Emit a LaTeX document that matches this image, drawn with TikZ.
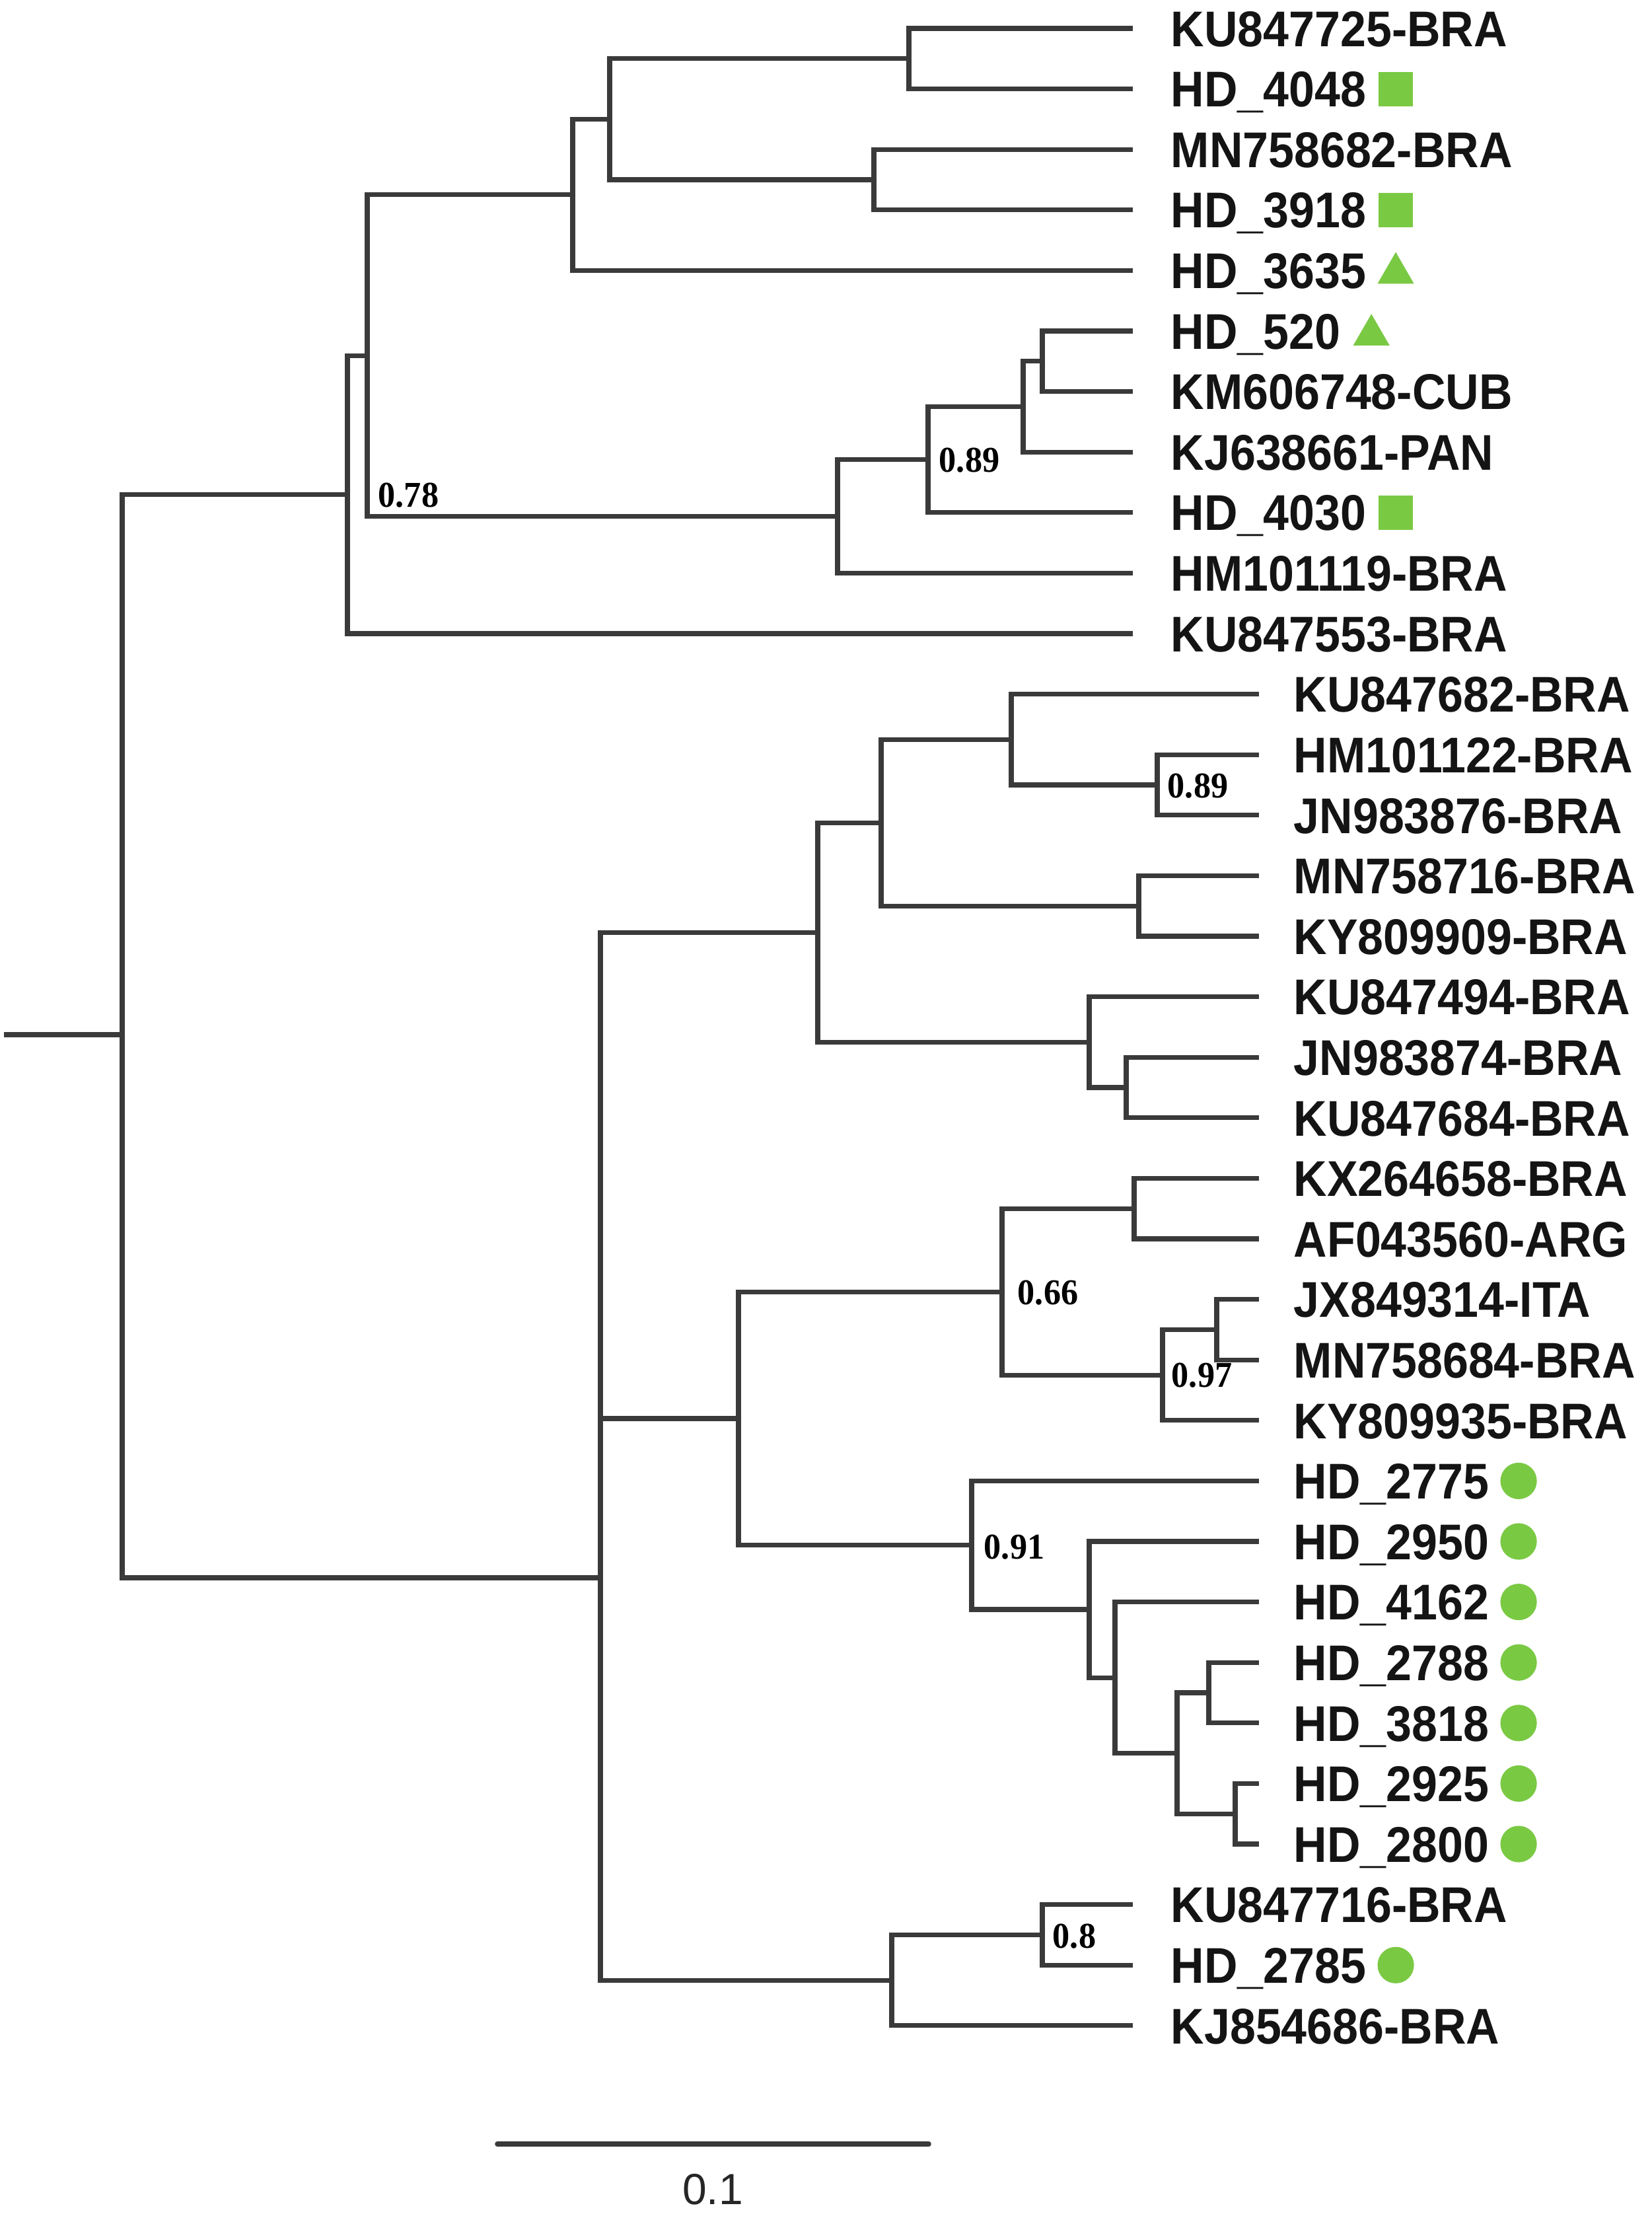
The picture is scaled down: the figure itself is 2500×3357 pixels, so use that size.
\documentclass[tikz,border=0pt]{standalone}
\usepackage{fontspec}
\usetikzlibrary{calc,shapes.geometric}
\newfontfamily\labfont[FakeStretch=0.92]{Liberation Sans}
\newfontfamily\supfont[FakeStretch=0.95]{Liberation Serif}
\newfontfamily\barfont{Liberation Sans}
\definecolor{branchcol}{RGB}{58,58,58}
\definecolor{mkgreen}{RGB}{122,201,67}
\begin{document}
\begin{tikzpicture}[x=0.25pt,y=-0.25pt,
  branch/.style={draw=branchcol,line width=1.8pt,line cap=rect},
  leaflab/.style={anchor=west,inner sep=0pt,text height=13.6pt,text depth=0pt,text=black!92,
    font=\labfont\bfseries\fontsize{19}{22}\selectfont},
  suplab/.style={anchor=west,inner sep=0pt,text height=9.3pt,text depth=0pt,text=black,
    font=\supfont\bfseries\fontsize{13.75}{16}\selectfont},
  sqmark/.style={rectangle,fill=mkgreen,draw=none,minimum size=13pt,inner sep=0pt},
  trimark/.style={regular polygon,regular polygon sides=3,fill=mkgreen,draw=none,minimum size=15.9pt,inner sep=0pt},
  circmark/.style={circle,fill=mkgreen,draw=none,minimum size=13.8pt,inner sep=0pt}
]
\fill[white] (0,0) rectangle (2500,3357);
\useasboundingbox (0,0) rectangle (2500,3357);

% ---------- internal nodes ----------
\coordinate (stub) at (10,1566);
\coordinate (root) at (185,1566);
\coordinate (nA) at (526,748.6);
\coordinate (nB) at (556,538.2);
\coordinate (nG) at (867,294.9);
\coordinate (nH) at (923,180.4);
\coordinate (nI) at (1376,88.8);
\coordinate (nJ) at (1323,272);
\coordinate (nC) at (1268,781.5);
\coordinate (nD) at (1405,695.7);
\coordinate (nE) at (1549,615.5);
\coordinate (nF) at (1578,546.8);
\coordinate (nK) at (909,2388);
\coordinate (nL) at (1238,1411.3);
\coordinate (nO) at (1334,1245.3);
\coordinate (nP) at (1531,1119.3);
\coordinate (nQ) at (1752,1188);
\coordinate (nR) at (1724,1371.2);
\coordinate (nS) at (1649,1577.3);
\coordinate (nT) at (1705,1646);
\coordinate (nM) at (1118,2147);
\coordinate (nU) at (1517,1955.2);
\coordinate (nV) at (1717,1829.2);
\coordinate (nW) at (1760,2081.1);
\coordinate (nX) at (1842,2012.4);
\coordinate (nY) at (1471,2338.7);
\coordinate (nZ) at (1649,2436);
\coordinate (nAA) at (1688,2539.1);
\coordinate (nAB) at (1782,2653.6);
\coordinate (nAC) at (1830,2562);
\coordinate (nAD) at (1870,2745.2);
\coordinate (nN) at (1350,2997.1);
\coordinate (nAE) at (1578,2928.4);

% ---------- leaf tips ----------
\foreach \i in {1,...,11} {\coordinate (t\i) at (1711,{43+(\i-1)*91.6});}
\foreach \i in {12,...,31} {\coordinate (t\i) at (1902,{43+(\i-1)*91.6});}
\foreach \i in {32,33,34} {\coordinate (t\i) at (1711,{43+(\i-1)*91.6});}

% ---------- branches ----------
\draw[branch] (stub) -- (root);
\foreach \p/\c in {root/nA,root/nK,
  nA/nB,nA/t11,nB/nG,nB/nC,nG/nH,nG/t5,nH/nI,nH/nJ,nI/t1,nI/t2,nJ/t3,nJ/t4,
  nC/nD,nC/t10,nD/nE,nD/t9,nE/nF,nE/t8,nF/t6,nF/t7,
  nK/nL,nK/nM,nK/nN,nL/nO,nL/nS,nO/nP,nO/nR,nP/t12,nP/nQ,nQ/t13,nQ/t14,
  nR/t15,nR/t16,nS/t17,nS/nT,nT/t18,nT/t19,
  nM/nU,nM/nY,nU/nV,nU/nW,nV/t20,nV/t21,nW/nX,nW/t24,nX/t22,nX/t23,
  nY/t25,nY/nZ,nZ/t26,nZ/nAA,nAA/t27,nAA/nAB,nAB/nAC,nAB/nAD,
  nAC/t28,nAC/t29,nAD/t30,nAD/t31,
  nN/nAE,nN/t34,nAE/t32,nAE/t33}
  {\draw[branch] (\p) |- (\c);}

% ---------- leaf labels ----------
\node[leaflab] (l1) at (1772,43) {KU847725-BRA};
\node[leaflab] (l2) at (1772,134.6) {HD\_4048};
\node[leaflab] (l3) at (1772,226.2) {MN758682-BRA};
\node[leaflab] (l4) at (1772,317.8) {HD\_3918};
\node[leaflab] (l5) at (1772,409.4) {HD\_3635};
\node[leaflab] (l6) at (1772,501) {HD\_520};
\node[leaflab] (l7) at (1772,592.6) {KM606748-CUB};
\node[leaflab] (l8) at (1772,684.2) {KJ638661-PAN};
\node[leaflab] (l9) at (1772,775.8) {HD\_4030};
\node[leaflab] (l10) at (1772,867.4) {HM101119-BRA};
\node[leaflab] (l11) at (1772,959) {KU847553-BRA};
\node[leaflab] (l12) at (1958,1050.6) {KU847682-BRA};
\node[leaflab] (l13) at (1958,1142.2) {HM101122-BRA};
\node[leaflab] (l14) at (1958,1233.8) {JN983876-BRA};
\node[leaflab] (l15) at (1958,1325.4) {MN758716-BRA};
\node[leaflab] (l16) at (1958,1417) {KY809909-BRA};
\node[leaflab] (l17) at (1958,1508.6) {KU847494-BRA};
\node[leaflab] (l18) at (1958,1600.2) {JN983874-BRA};
\node[leaflab] (l19) at (1958,1691.8) {KU847684-BRA};
\node[leaflab] (l20) at (1958,1783.4) {KX264658-BRA};
\node[leaflab] (l21) at (1958,1875) {AF043560-ARG};
\node[leaflab] (l22) at (1958,1966.6) {JX849314-ITA};
\node[leaflab] (l23) at (1958,2058.2) {MN758684-BRA};
\node[leaflab] (l24) at (1958,2149.8) {KY809935-BRA};
\node[leaflab] (l25) at (1958,2241.4) {HD\_2775};
\node[leaflab] (l26) at (1958,2333) {HD\_2950};
\node[leaflab] (l27) at (1958,2424.6) {HD\_4162};
\node[leaflab] (l28) at (1958,2516.2) {HD\_2788};
\node[leaflab] (l29) at (1958,2607.8) {HD\_3818};
\node[leaflab] (l30) at (1958,2699.4) {HD\_2925};
\node[leaflab] (l31) at (1958,2791) {HD\_2800};
\node[leaflab] (l32) at (1772,2882.6) {KU847716-BRA};
\node[leaflab] (l33) at (1772,2974.2) {HD\_2785};
\node[leaflab] (l34) at (1772,3065.8) {KJ854686-BRA};

% ---------- markers ----------
\node[sqmark] (m2) at ($(l2.east)+(44,0)$) {};
\node[sqmark] (m4) at ($(l4.east)+(44,0)$) {};
\node[trimark] (m5) at ($(l5.east)+(44,4)$) {};
\node[trimark] (m6) at ($(l6.east)+(46,6)$) {};
\node[sqmark] (m9) at ($(l9.east)+(44,0)$) {};
\foreach \i in {25,...,31} {\node[circmark] (m\i) at ($(l\i.east)+(44,0)$) {};}
\node[circmark] (m33) at ($(l33.east)+(44,0)$) {};

% ---------- support values ----------
\node[suplab] (s1) at (572,748.6) {0.78};
\node[suplab] (s2) at (1421,695.7) {0.89};
\node[suplab] (s3) at (1767,1189) {0.89};
\node[suplab] (s4) at (1540,1956) {0.66};
\node[suplab] (s5) at (1773,2081) {0.97};
\node[suplab] (s6) at (1489,2341) {0.91};
\node[suplab] (s7) at (1593,2930) {0.8};

% ---------- scale bar ----------
\coordinate (sb1) at (753,3245);
\coordinate (sb2) at (1406,3245);
\draw[draw=branchcol,line width=1.9pt,line cap=round] (sb1) -- (sb2);
\node[inner sep=0pt,text=black!85,font=\barfont\fontsize{16.5}{18}\selectfont] (sbl) at (1079,3314) {0.1};
\end{tikzpicture}
\end{document}
